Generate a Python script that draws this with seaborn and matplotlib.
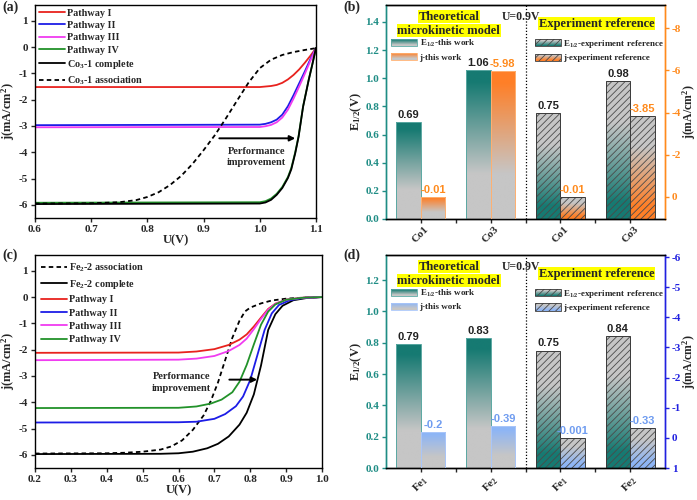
import numpy as np
import matplotlib
matplotlib.use("Agg")
import matplotlib.pyplot as plt
import seaborn as sns
from matplotlib.colors import to_rgb
from matplotlib.patches import Rectangle
from matplotlib.legend_handler import HandlerBase

sns.set_style("ticks")
plt.rcParams.update({
    "font.family": ["Liberation Serif", "DejaVu Serif"],
    "font.weight": "bold",
    "axes.labelweight": "bold",
    "axes.unicode_minus": False,
    "mathtext.fontset": "custom",
    "mathtext.rm": "Liberation Serif:bold",
    "mathtext.bf": "Liberation Serif:bold",
    "mathtext.it": "Liberation Serif:bold",
    "mathtext.default": "bf",
    "axes.linewidth": 1.0,
    "hatch.linewidth": 0.6,
    "xtick.direction": "out",
    "ytick.direction": "out",
})

# ---------------- data: panel (a) ----------------
a_U_p = [0.60, 1.00, 1.01, 1.02, 1.03, 1.04, 1.05, 1.06, 1.07, 1.08, 1.09, 1.10]
a_j_I = [-1.52, -1.52, -1.50, -1.48, -1.44, -1.36, -1.23, -1.06, -0.85, -0.60, -0.33, -0.04]
a_j_II = [-2.97, -2.95, -2.92, -2.86, -2.76, -2.57, -2.25, -1.83, -1.38, -0.93, -0.46, -0.03]
a_j_III = [-3.05, -3.04, -3.01, -2.96, -2.86, -2.68, -2.38, -1.96, -1.50, -1.02, -0.52, -0.03]
a_U_c = [0.60, 1.00, 1.01, 1.02, 1.03, 1.04, 1.05, 1.056, 1.063, 1.069, 1.077, 1.087, 1.093, 1.10]
a_j_IV = [-5.92, -5.90, -5.86, -5.76, -5.58, -5.32, -4.94, -4.60, -4.00, -3.38, -2.25, -1.24, -0.70, -0.03]
a_j_comp = [-5.97, -5.95, -5.91, -5.81, -5.62, -5.36, -4.98, -4.65, -4.04, -3.41, -2.27, -1.25, -0.70, -0.03]
a_U_as = [0.60, 0.70, 0.75, 0.78, 0.80, 0.82, 0.84, 0.86, 0.88, 0.90, 0.92, 0.94, 0.96, 0.98,
          1.00, 1.02, 1.04, 1.06, 1.08, 1.10]
a_j_as = [-5.95, -5.94, -5.90, -5.82, -5.70, -5.52, -5.25, -4.90, -4.45, -3.92, -3.35, -2.70,
          -2.02, -1.35, -0.80, -0.48, -0.30, -0.19, -0.11, -0.04]

# ---------------- data: panel (c) ----------------
c_U_as = [0.20, 0.40, 0.45, 0.50, 0.55, 0.58, 0.61, 0.64, 0.67, 0.69, 0.71, 0.73, 0.75, 0.77,
          0.785, 0.80, 0.83, 0.86, 0.90, 0.95, 1.00]
c_j_as = [-5.95, -5.94, -5.92, -5.88, -5.80, -5.68, -5.45, -5.05, -4.50, -3.95, -3.25, -2.40,
          -1.55, -0.90, -0.55, -0.40, -0.24, -0.13, -0.06, -0.02, 0.0]
c_U_comp = [0.20, 0.55, 0.60, 0.64, 0.68, 0.71, 0.74, 0.77, 0.79, 0.81, 0.83, 0.85, 0.87, 0.89,
            0.92, 0.96, 1.00]
c_j_comp = [-5.97, -5.96, -5.94, -5.88, -5.75, -5.58, -5.30, -4.85, -4.40, -3.70, -2.60, -1.25,
            -0.65, -0.33, -0.12, -0.03, 0.0]
c_U_p = [0.20, 0.60, 0.65, 0.70, 0.74, 0.77, 0.79, 0.81, 0.83, 0.85, 0.87, 0.90, 0.95, 1.00]
c_j_I = [-2.12, -2.11, -2.07, -1.98, -1.82, -1.62, -1.42, -1.12, -0.78, -0.45, -0.25, -0.10, -0.02, 0.0]
c_j_III = [-2.40, -2.38, -2.34, -2.24, -2.05, -1.82, -1.58, -1.22, -0.83, -0.48, -0.26, -0.10, -0.02, 0.0]
c_U_II = [0.20, 0.60, 0.65, 0.70, 0.73, 0.76, 0.78, 0.80, 0.82, 0.84, 0.86, 0.88, 0.91, 0.95, 1.00]
c_j_II = [-4.77, -4.76, -4.74, -4.63, -4.45, -4.15, -3.78, -3.15, -2.20, -1.25, -0.62, -0.30, -0.12, -0.03, 0.0]
c_U_IV = [0.20, 0.60, 0.65, 0.69, 0.72, 0.75, 0.77, 0.79, 0.81, 0.83, 0.85, 0.87, 0.90, 0.95, 1.00]
c_j_IV = [-4.22, -4.21, -4.16, -4.05, -3.90, -3.62, -3.22, -2.58, -1.80, -1.05, -0.55, -0.28, -0.10, -0.02, 0.0]

# ---------------- data: panels (b) and (d) ----------------
b_labels = ["Co1", "Co3", "Co1", "Co3"]
b_E_work = [0.69, 1.06]
b_j_work = [-0.01, -5.98]
b_E_exp = [0.75, 0.98]
b_j_exp = [-0.01, -3.85]

d_labels = ["Fe$_1$", "Fe$_2$", "Fe$_1$", "Fe$_2$"]
d_E_work = [0.79, 0.83]
d_j_work = [-0.2, -0.39]
d_E_exp = [0.75, 0.84]
d_j_exp = [-0.001, -0.33]

# ---------------- colours ----------------
RED, BLUE, MAG, GREEN = "#e8221e", "#1c1ce6", "#f03cf0", "#22922a"
TEAL = "#167a72"
TEAL_AX = "#1f8d85"
GRAY = "#c6c6c6"
ORANGE = "#ff7f27"
LBLUE = "#8db5f6"
BLUE_AX = "#2020e0"
HATCH_C = "#4a4a4a"

fig = plt.figure(figsize=(6.97, 5.0), dpi=100)
ax_a = fig.add_axes([0.0502, 0.564, 0.4032, 0.426])
ax_b = fig.add_axes([0.5538, 0.562, 0.4003, 0.428])
ax_c = fig.add_axes([0.0502, 0.064, 0.4118, 0.426])
ax_d = fig.add_axes([0.5538, 0.064, 0.4003, 0.426])


def curve(ax, U, j, color, label, ls="-"):
    sns.lineplot(x=U, y=j, ax=ax, color=color, label=label, sort=False, lw=1.3,
                 linestyle=ls)


def style_curve_axes(ax, xlim, xticks):
    ax.set_xlim(*xlim)
    ax.set_ylim(-6.5, 1.6)
    ax.set_xticks(xticks)
    ax.set_xticklabels([f"{t:.1f}" for t in xticks])
    ax.set_yticks(range(-6, 2))
    ax.tick_params(labelsize=8, length=3, width=1, pad=2)
    for s in ax.spines.values():
        s.set_visible(True)
        s.set_color("k")
    ax.set_xlabel("U(V)", fontsize=9, labelpad=0)
    ax.set_ylabel("j(mA/cm$^2$)", fontsize=9, labelpad=1)


LEG_KW = dict(loc="upper left", bbox_to_anchor=(0.0, 1.0), frameon=False, fontsize=7.3,
              handlelength=2.6, handletextpad=0.2, borderpad=0.1)

# ---------- panel (a) ----------
curve(ax_a, a_U_p, a_j_I, RED, "Pathway I")
curve(ax_a, a_U_p, a_j_II, BLUE, "Pathway II")
curve(ax_a, a_U_p, a_j_III, MAG, "Pathway III")
curve(ax_a, a_U_c, a_j_IV, GREEN, "Pathway IV")
curve(ax_a, a_U_c, a_j_comp, "k", "Co$_3$-1 complete")
curve(ax_a, a_U_as, a_j_as, "k", "Co$_3$-1 association", ls=(0, (2.5, 1.8)))
style_curve_axes(ax_a, (0.6, 1.1), [0.6, 0.7, 0.8, 0.9, 1.0, 1.1])
ax_a.legend(labelspacing=0.32, borderaxespad=0.25, **LEG_KW)
ax_a.annotate("", xy=(1.068, -3.47), xytext=(0.923, -3.47),
              arrowprops=dict(arrowstyle="-|>", color="k", lw=1.4, mutation_scale=8))
ax_a.text(0.994, -4.17, "Performance\nimprovement", ha="center", va="center", fontsize=7.5,
          linespacing=1.3)

# ---------- panel (c) ----------
curve(ax_c, c_U_as, c_j_as, "k", "Fe$_2$-2 association", ls=(0, (2.5, 1.8)))
curve(ax_c, c_U_comp, c_j_comp, "k", "Fe$_2$-2 complete")
curve(ax_c, c_U_p, c_j_I, RED, "Pathway I")
curve(ax_c, c_U_II, c_j_II, BLUE, "Pathway II")
curve(ax_c, c_U_p, c_j_III, MAG, "Pathway III")
curve(ax_c, c_U_IV, c_j_IV, GREEN, "Pathway IV")
style_curve_axes(ax_c, (0.2, 1.0), [0.2, 0.3, 0.4, 0.5, 0.6, 0.7, 0.8, 0.9, 1.0])
ax_c.legend(labelspacing=0.42, borderaxespad=0.5, **LEG_KW)
ax_c.annotate("", xy=(0.827, -3.14), xytext=(0.734, -3.14),
              arrowprops=dict(arrowstyle="-|>", color="k", lw=1.4, mutation_scale=8))
ax_c.text(0.609, -3.25, "Performance\nimprovement", ha="center", va="center", fontsize=7.5,
          linespacing=1.3)


# ---------- gradient bar helpers ----------
def grad_color(t, c_top, c_bot, lo, hi):
    f = np.clip((t - lo) / (hi - lo), 0, 1)
    return np.array(to_rgb(c_bot)) * (1 - f) + np.array(to_rgb(c_top)) * f


def grad_bar(ax, x, bottom, top, width, c_top, c_bot, lo, hi, edge, lw=0.7, hatch=None):
    n = 80
    t = np.linspace(0, 1, n)
    img = np.array([grad_color(v, c_top, c_bot, lo, hi) for v in t])[:, None, :]
    bar = ax.bar(x, top - bottom, width, bottom=bottom, facecolor="none", edgecolor=edge,
                 lw=lw, zorder=3)[0]
    im = ax.imshow(img, extent=(x - width / 2, x + width / 2, bottom, top), origin="lower",
                   aspect="auto", zorder=2, interpolation="bilinear")
    im.set_clip_path(bar)
    if hatch:
        ax.bar(x, top - bottom, width, bottom=bottom, facecolor="none", edgecolor=HATCH_C,
               lw=0, hatch=hatch, zorder=2.5)
    return bar


class GradHandler(HandlerBase):
    def __init__(self, c_top, c_bot, lo, hi, edge, hatch=None):
        super().__init__()
        self.c = (c_top, c_bot, lo, hi)
        self.edge = edge
        self.hatch = hatch

    def create_artists(self, legend, orig_handle, xdescent, ydescent, width, height,
                       fontsize, trans):
        arts = []
        n = 14
        for i in range(n):
            t = (i + 0.5) / n
            col = grad_color(t, *self.c)
            arts.append(Rectangle((-xdescent, -ydescent + i * height / n), width,
                                  height / n + 0.05, facecolor=col, edgecolor="none",
                                  transform=trans))
        if self.hatch:
            arts.append(Rectangle((-xdescent, -ydescent), width, height, facecolor="none",
                                  edgecolor=HATCH_C, lw=0, hatch=self.hatch, transform=trans))
        arts.append(Rectangle((-xdescent, -ydescent), width, height, facecolor="none",
                              edgecolor=self.edge, lw=0.6, transform=trans))
        return arts


def bar_panel(ax, E_work, j_work, E_exp, j_exp, labels, jcol, jaxis_col, jtext_col,
              Elim, Eticks, jlim, jticks, jedge):
    ax2 = ax.twinx()
    w = 0.35
    groups = [(0, E_work[0], j_work[0]), (1, E_work[1], j_work[1]),
              (2, E_exp[0], j_exp[0]), (3, E_exp[1], j_exp[1])]
    jbase = jlim[0]
    for gx, Ev, jv in groups:
        if gx < 2:
            grad_bar(ax, gx - w / 2, 0, Ev, w, TEAL, GRAY, 0.3, 0.92, "#5aa8a2")
            grad_bar(ax2, gx + w / 2, jbase, jv, w, jcol, GRAY, 0.3, 0.92, jedge)
        else:
            grad_bar(ax, gx - w / 2, 0, Ev, w, GRAY, TEAL, 0.12, 0.7, "#3a3a3a", hatch="/////")
            grad_bar(ax2, gx + w / 2, jbase, jv, w, GRAY, jcol, 0.12, 0.7, "#3a3a3a",
                     hatch="/////")
        ax.annotate(f"{Ev:.2f}", xy=(gx - w / 2, Ev), xytext=(0, 1.5), textcoords="offset points",
                    ha="center", va="bottom", fontsize=8, fontweight="bold",
                    family=["Liberation Sans", "DejaVu Sans"], color="#222222", zorder=5)
        ax2.annotate(f"{jv:g}", xy=(gx + w / 2, jv), xytext=(0, 1.5), textcoords="offset points",
                     ha="center", va="bottom", fontsize=8, fontweight="bold",
                     family=["Liberation Sans", "DejaVu Sans"], color=jtext_col, zorder=5)
    ax.set_xlim(-0.5, 3.5)
    ax2.set_xlim(-0.5, 3.5)
    ax.set_ylim(*Elim)
    ax2.set_ylim(*jlim)
    ax.set_yticks(Eticks)
    ax.set_yticklabels([f"{t:.1f}" for t in Eticks])
    ax2.set_yticks(jticks)
    ax2.set_yticklabels([f"{t:g}" for t in jticks])
    ax.set_xticks([0, 1, 2, 3])
    ax.set_xticks([0.5, 1.5, 2.5], minor=True)
    ax.set_xticklabels(labels, rotation=45, ha="center", fontsize=8)
    ax.tick_params(axis="x", which="both", length=3, width=1, pad=1)
    ax.tick_params(axis="y", colors=TEAL_AX, labelsize=8, length=3, width=1, pad=2)
    ax2.tick_params(axis="y", colors=jaxis_col, labelsize=8, length=3, width=1, pad=2)
    for a in (ax, ax2):
        for s in a.spines.values():
            s.set_visible(True)
            s.set_color("k")
    ax.spines["left"].set_color(TEAL_AX)
    ax2.spines["left"].set_color(TEAL_AX)
    ax2.spines["right"].set_color(jaxis_col)
    ax.spines["right"].set_color(jaxis_col)
    ax.set_ylabel("E$_{1/2}$(V)", fontsize=9, labelpad=1)
    ax2.set_ylabel("j(mA/cm$^2$)", fontsize=8.5, labelpad=-1)
    ax.axvline(1.5, color="k", ls=(0, (1, 1.5)), lw=0.9, zorder=1)
    tr = ax.get_xaxis_transform()
    hl = dict(boxstyle="square,pad=0.05", facecolor="#ffff00", edgecolor="none")
    ax.text(0.40, 0.945, "Theoretical", transform=tr, ha="center", va="center", fontsize=9,
            bbox=hl)
    ax.text(0.40, 0.88, "microkinetic model", transform=tr, ha="center", va="center",
            fontsize=9, bbox=hl)
    ax.text(1.44, 0.945, "U=0.9V", transform=tr, ha="center", va="center", fontsize=8.5)
    ax.text(2.52, 0.912, "Experiment reference", transform=tr, ha="center", va="center",
            fontsize=9, bbox=hl)
    # legends
    h1, h2, h3, h4 = (Rectangle((0, 0), 1, 1) for _ in range(4))
    leg1 = ax2.legend([h1, h2], ["E$_{1/2}$-this work", "j-this work"],
                      handler_map={h1: GradHandler(TEAL, GRAY, 0.2, 0.95, "#5aa8a2"),
                                   h2: GradHandler(jcol, GRAY, 0.2, 0.95, jedge)},
                      loc="upper left", bbox_to_anchor=(0.015, 0.85), frameon=False, fontsize=6.5,
                      handlelength=2.9, handleheight=0.85, handletextpad=0.25,
                      labelspacing=0.4, borderpad=0.1, borderaxespad=0)
    ax2.add_artist(leg1)
    ax2.legend([h3, h4], ["E$_{1/2}$-experiment reference", "j-experiment reference"],
               handler_map={h3: GradHandler(GRAY, TEAL, 0.1, 0.8, "#3a3a3a", hatch="/////"),
                            h4: GradHandler(GRAY, jcol, 0.1, 0.8, "#3a3a3a", hatch="/////")},
               loc="upper left", bbox_to_anchor=(0.53, 0.85), frameon=False, fontsize=6.5,
               handlelength=2.9, handleheight=0.85, handletextpad=0.25,
               labelspacing=0.4, borderpad=0.1, borderaxespad=0)
    return ax2


bar_panel(ax_b, b_E_work, b_j_work, b_E_exp, b_j_exp, b_labels, ORANGE, "#ff8a1c", "#ff8a1c",
          (0, 1.52), [0, 0.2, 0.4, 0.6, 0.8, 1.0, 1.2, 1.4], (1.05, -9.1), [-8, -6, -4, -2, 0],
          "#ffb070")
bar_panel(ax_d, d_E_work, d_j_work, d_E_exp, d_j_exp, d_labels, LBLUE, BLUE_AX, "#6f9cf0",
          (0, 1.36), [0, 0.2, 0.4, 0.6, 0.8, 1.0, 1.2], (1.0, -6.07), [-6, -5, -4, -3, -2, -1, 0, 1],
          "#a9c6fa")

for lab, x, y in [("(a)", 0.003, 0.998), ("(b)", 0.492, 0.998), ("(c)", 0.003, 0.502),
                  ("(d)", 0.492, 0.502)]:
    fig.text(x, y, lab, ha="left", va="top", fontsize=10, fontweight="bold")

fig.savefig("out.png", dpi=100)
